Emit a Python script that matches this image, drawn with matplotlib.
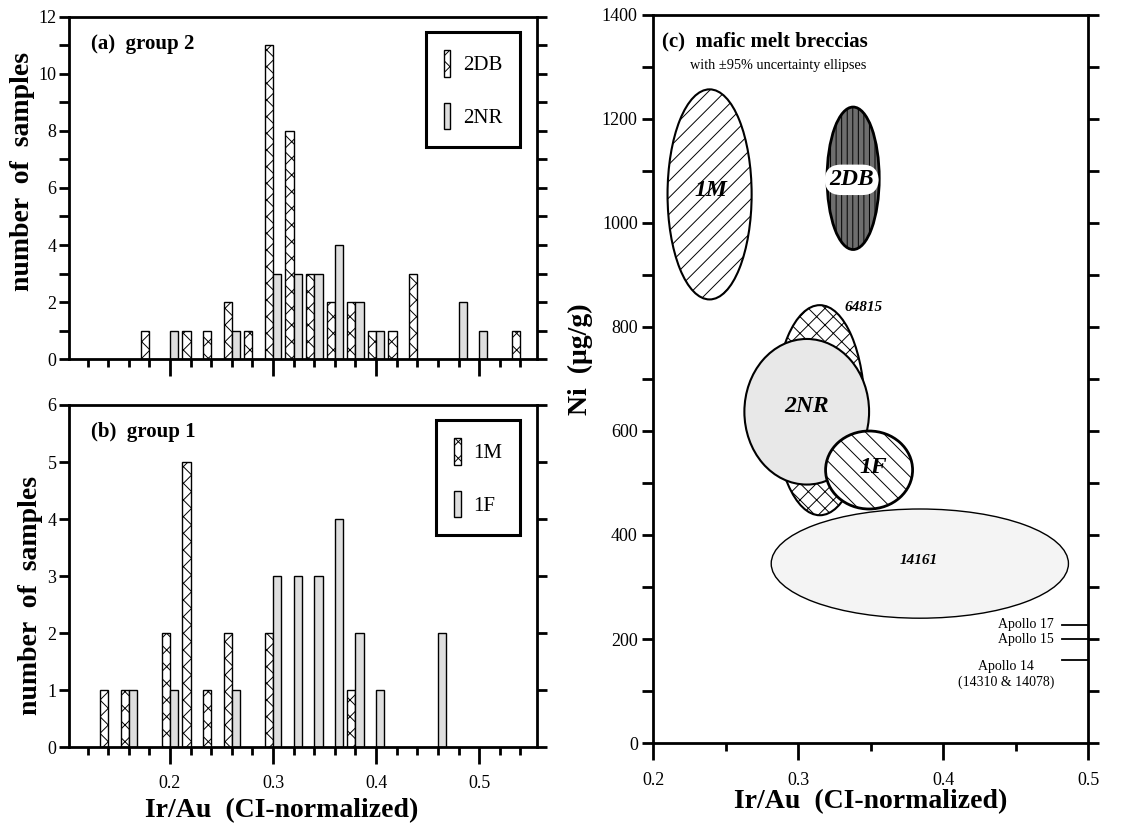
import numpy as np
import matplotlib.pyplot as plt
from matplotlib.patches import Ellipse, Patch
from matplotlib.ticker import MultipleLocator

plt.rcParams['font.family'] = ['Liberation Serif', 'DejaVu Serif']
plt.rcParams['hatch.linewidth'] = 0.7

# (a) group 2 histogram: bin position (tick) and counts per breccia type
g2_bins = [0.18, 0.20, 0.22, 0.24, 0.26, 0.28, 0.30, 0.32, 0.34, 0.36, 0.38, 0.40, 0.42, 0.44, 0.48, 0.50, 0.54]
g2_2db = [1, 0, 1, 1, 2, 1, 11, 8, 3, 2, 2, 1, 1, 3, 0, 0, 1]
g2_2nr = [0, 1, 0, 0, 1, 0, 3, 3, 3, 4, 2, 1, 0, 0, 2, 1, 0]

# (b) group 1 histogram
g1_bins = [0.14, 0.16, 0.20, 0.22, 0.24, 0.26, 0.30, 0.32, 0.34, 0.36, 0.38, 0.40, 0.46]
g1_1m = [1, 1, 2, 5, 1, 2, 2, 0, 0, 0, 1, 0, 0]
g1_1f = [0, 1, 1, 0, 0, 1, 3, 3, 3, 4, 2, 1, 2]

# (c) uncertainty ellipses: name, center Ir/Au, center Ni, full width, full height
ell_names = ['14161', '64815', '2NR', '1F', '1M', '2DB']
ell_x = [0.384, 0.315, 0.306, 0.349, 0.239, 0.338]
ell_y = [345, 640, 637, 525, 1055, 1086]
ell_w = [0.205, 0.062, 0.086, 0.060, 0.058, 0.036]
ell_h = [210, 404, 280, 150, 404, 274]

# label positions for ellipses
lab_names = ['14161', '64815', '2NR', '1F', '1M', '2DB']
lab_x = [0.383, 0.345, 0.306, 0.352, 0.240, 0.337]
lab_y = [350, 838, 647, 530, 1063, 1083]

# Apollo site Ni levels
apollo_names = ['Apollo 17', 'Apollo 15', 'Apollo 14\n(14310 & 14078)']
apollo_ni = [227, 200, 160]

bw = 0.008
xstyle = dict(facecolor='white', edgecolor='black', hatch='xx', linewidth=1.0)
dstyle = dict(facecolor='#dedede', edgecolor='black', linewidth=1.0)


def hist_panel(ax, bins, s1, s2, names, ymax, ystep, title):
    bins = np.array(bins)
    s1 = np.array(s1)
    s2 = np.array(s2)
    m1 = s1 > 0
    m2 = s2 > 0
    ax.bar(bins[m1], s1[m1], width=-bw, align='edge', **xstyle)
    ax.bar(bins[m2], s2[m2], width=bw, align='edge', **dstyle)
    ax.set_xlim(0.102, 0.556)
    ax.set_ylim(0, ymax)
    ax.xaxis.set_major_locator(MultipleLocator(0.1))
    ax.xaxis.set_minor_locator(MultipleLocator(0.02))
    ax.yaxis.set_major_locator(MultipleLocator(ystep))
    ax.yaxis.set_minor_locator(MultipleLocator(1))
    ax.tick_params(axis='x', which='major', direction='out', length=12, width=2,
                   labelsize=13, pad=8)
    ax.tick_params(axis='x', which='minor', direction='out', length=6, width=2)
    ax.tick_params(axis='y', which='both', direction='out', length=7, width=2,
                   right=True, labelsize=13, pad=2)
    for s in ax.spines.values():
        s.set_linewidth(2)
    ax.set_ylabel('number  of  samples', fontsize=20, fontweight='bold')
    ax.text(0.047, 0.92, title, transform=ax.transAxes, fontsize=15,
            fontweight='bold', va='center')
    handles = [Patch(**xstyle), Patch(**dstyle)]
    leg = ax.legend(handles, names, loc='upper right', bbox_to_anchor=(0.964, 0.956),
                    borderaxespad=0, fontsize=15, handlelength=0.32, handleheight=1.6,
                    labelspacing=1.25, borderpad=0.85, handletextpad=0.6,
                    fancybox=False, framealpha=1)
    leg.get_frame().set_edgecolor('black')
    leg.get_frame().set_linewidth(2.2)


fig = plt.figure(figsize=(11.31, 8.24), dpi=100)
ax1 = fig.add_axes([0.0610, 0.5643, 0.4137, 0.4151])
ax2 = fig.add_axes([0.0610, 0.0934, 0.4137, 0.4151])
ax3 = fig.add_axes([0.5774, 0.0983, 0.3846, 0.8835])

hist_panel(ax1, g2_bins, g2_2db, g2_2nr, ['2DB', '2NR'], 12, 2, '(a)  group 2')
ax1.tick_params(axis='x', labelbottom=False)
ax1.yaxis.set_label_coords(-0.072, 0.547)
hist_panel(ax2, g1_bins, g1_1m, g1_1f, ['1M', '1F'], 6, 1, '(b)  group 1')
ax2.yaxis.set_label_coords(-0.055, 0.444)
ax2.set_xticks([0.2, 0.3, 0.4, 0.5])
ax2.set_xticklabels(['0.2', '0.3', '0.4', '0.5'])
ax2.set_xlabel('Ir/Au  (CI-normalized)', fontsize=20, fontweight='bold')
ax2.xaxis.set_label_coords(0.454, -0.150)

# (c) ellipses
ell_style = {
    '14161': dict(facecolor='#f4f4f4', edgecolor='black', linewidth=1.0),
    '64815': dict(facecolor='white', edgecolor='black', hatch='xx', linewidth=1.5),
    '2NR': dict(facecolor='#e8e8e8', edgecolor='black', linewidth=1.5),
    '1F': dict(facecolor='white', edgecolor='black', hatch='\\\\', linewidth=2.0),
    '1M': dict(facecolor='white', edgecolor='black', hatch='//', linewidth=1.5),
    '2DB': dict(facecolor='#6e6e6e', edgecolor='black', hatch='|||', linewidth=2.0),
}
for n, x, y, w, h in zip(ell_names, ell_x, ell_y, ell_w, ell_h):
    ax3.add_patch(Ellipse((x, y), w, h, **ell_style[n]))

for n, x, y in zip(lab_names, lab_x, lab_y):
    if n in ('14161', '64815'):
        ax3.text(x, y, n, fontsize=11, fontstyle='italic', fontweight='bold',
                 ha='center', va='center')
    elif n == '2DB':
        ax3.text(x, y, n, fontsize=17, fontstyle='italic', fontweight='bold',
                 ha='center', va='center',
                 bbox=dict(boxstyle='round,pad=0.2,rounding_size=0.7',
                           facecolor='white', edgecolor='none'))
    else:
        ax3.text(x, y, n, fontsize=17, fontstyle='italic', fontweight='bold',
                 ha='center', va='center')

for n, y in zip(apollo_names, apollo_ni):
    ax3.plot([0.482, 0.5], [y, y], color='black', linewidth=1.3, clip_on=False)
    ax3.text(0.4765, y, n, fontsize=10, ha='right', va='top' if '\n' in n else 'center',
             multialignment='center', linespacing=1.3)

ax3.set_xlim(0.2, 0.5)
ax3.set_ylim(0, 1400)
ax3.xaxis.set_major_locator(MultipleLocator(0.1))
ax3.xaxis.set_minor_locator(MultipleLocator(0.05))
ax3.yaxis.set_major_locator(MultipleLocator(200))
ax3.yaxis.set_minor_locator(MultipleLocator(100))
ax3.set_xticks([0.2, 0.3, 0.4, 0.5])
ax3.set_xticklabels(['0.2', '0.3', '0.4', '0.5'])
ax3.tick_params(axis='x', which='major', direction='out', length=12, width=2,
                labelsize=13, pad=9)
ax3.tick_params(axis='x', which='minor', direction='out', length=6, width=2)
ax3.tick_params(axis='y', which='both', direction='out', length=8, width=2,
                right=True, labelsize=13, pad=3)
for s in ax3.spines.values():
    s.set_linewidth(2)
ax3.set_xlabel('Ir/Au  (CI-normalized)', fontsize=20, fontweight='bold')
ax3.xaxis.set_label_coords(0.501, -0.064)
ax3.set_ylabel('Ni  (μg/g)', fontsize=20, fontweight='bold')
ax3.yaxis.set_label_coords(-0.138, 0.527)
ax3.text(0.02, 0.964, '(c)  mafic melt breccias', transform=ax3.transAxes,
         fontsize=15, fontweight='bold', va='center')
ax3.text(0.085, 0.931, 'with ±95% uncertainty ellipses', transform=ax3.transAxes,
         fontsize=10.3, va='center')

fig.savefig('out.png', dpi=100)
